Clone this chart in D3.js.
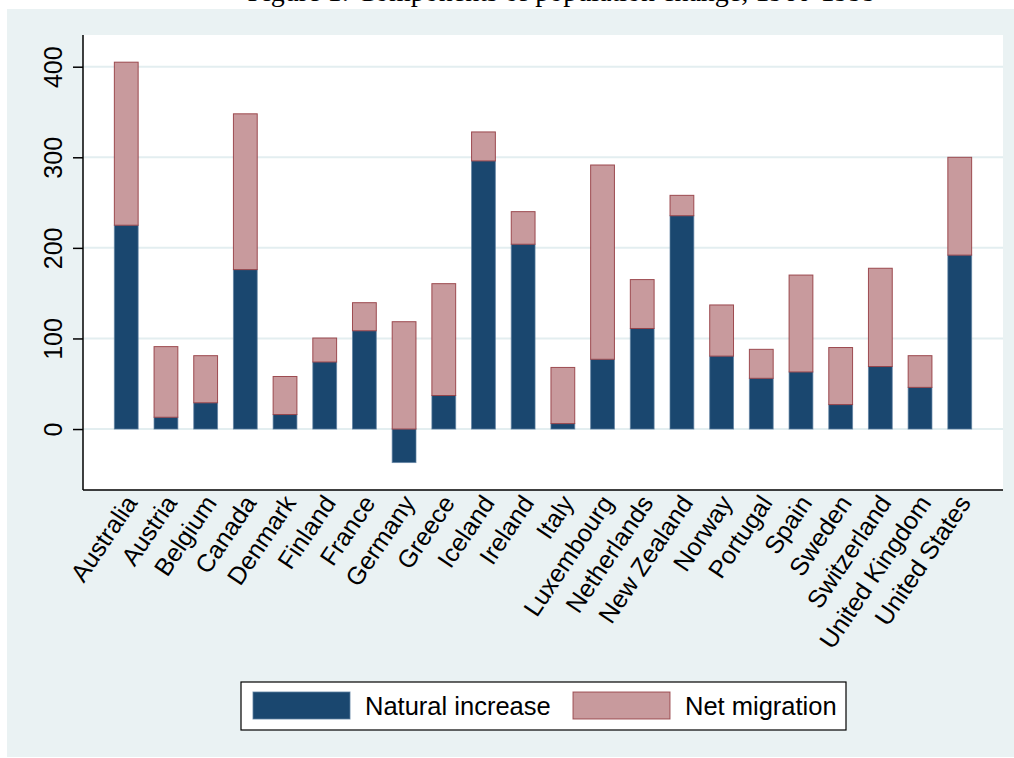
<!DOCTYPE html>
<html lang="en">
<head>
<meta charset="UTF-8">
<title>Components of population change</title>
<script src="https://d3js.org/d3.v7.min.js"></script>
<style>
  body { margin: 0; background: #ffffff; }
  svg { display: block; }
  text { font-family: "Liberation Sans", Arial, sans-serif; fill: #000; }
</style>
</head>
<body>
<div id="chart"></div>
<script>
// Data
const countries = ["Australia", "Austria", "Belgium", "Canada", "Denmark", "Finland", "France",
  "Germany", "Greece", "Iceland", "Ireland", "Italy", "Luxembourg", "Netherlands", "New Zealand",
  "Norway", "Portugal", "Spain", "Sweden", "Switzerland", "United Kingdom", "United States"];
const naturalIncrease = [225, 13, 29, 176, 16, 74, 108.5, -37, 37, 296, 204, 6, 77, 111, 235.5,
  80.5, 56, 63, 27, 69, 46, 192];
const netMigration = [180, 78, 52, 172, 42, 26.5, 31, 118.5, 123.5, 32, 36, 62, 214.5, 54, 22.5,
  56.5, 32, 107, 63, 108.5, 35, 108];
const yTicks = [0, 100, 200, 300, 400];
const seriesNames = ["Natural increase", "Net migration"];

const W = 1014, H = 758;
const plot = { left: 83, right: 1003, top: 35, bottom: 490 };

const navy = "#1a476f";
const pinkFill = "#c89a9d";
const maroon = "#90353b";
const bg = "#eaf2f3";

const svg = d3.select("#chart").append("svg")
  .attr("width", W).attr("height", H);

// title (cut off at the top edge, as in the source)
svg.append("text")
  .attr("x", 562).attr("y", 1)
  .attr("text-anchor", "middle")
  .style("font-family", "'Liberation Serif', 'DejaVu Serif', serif")
  .style("font-size", "28px")
  .text("Figure 1: Components of population change, 1960-1999");

// graph background
svg.append("rect")
  .attr("x", 7).attr("y", 9)
  .attr("width", W - 7).attr("height", 748)
  .attr("fill", bg);

// plot region
svg.append("rect")
  .attr("x", plot.left).attr("y", plot.top)
  .attr("width", plot.right - plot.left).attr("height", plot.bottom - plot.top)
  .attr("fill", "#ffffff");

const x = d3.scaleBand()
  .domain(countries)
  .range([plot.left, plot.right])
  .paddingInner(0.4)
  .paddingOuter(0.79);

const y = d3.scaleLinear()
  .domain([-67.3, 435])
  .range([plot.bottom, plot.top]);

// grid lines
svg.append("g")
  .selectAll("line")
  .data(yTicks)
  .join("line")
  .attr("x1", plot.left).attr("x2", plot.right)
  .attr("y1", d => y(d)).attr("y2", d => y(d))
  .attr("stroke", "#e3eef0")
  .attr("stroke-width", 2);

// stacked bars
const rows = countries.map((c, i) => ({
  country: c,
  "Natural increase": naturalIncrease[i],
  "Net migration": netMigration[i]
}));
const stacked = d3.stack()
  .keys(seriesNames)
  .offset(d3.stackOffsetDiverging)(rows);

const fills = { "Natural increase": navy, "Net migration": pinkFill };
const strokes = { "Natural increase": "#5d7fa0", "Net migration": maroon };

svg.append("g")
  .selectAll("g")
  .data(stacked)
  .join("g")
  .attr("fill", s => fills[s.key])
  .attr("stroke", s => strokes[s.key])
  .attr("stroke-width", 1)
  .attr("stroke-opacity", s => s.key === "Net migration" ? 0.85 : 0.7)
  .selectAll("rect")
  .data(s => s)
  .join("rect")
  .attr("x", d => x(d.data.country))
  .attr("width", x.bandwidth())
  .attr("y", d => y(Math.max(d[0], d[1])))
  .attr("height", d => Math.abs(y(d[0]) - y(d[1])));

// y axis
const yAxis = svg.append("g")
  .attr("transform", `translate(${plot.left},0)`)
  .call(d3.axisLeft(y).tickValues(yTicks).tickSize(10).tickPadding(0).tickFormat(d3.format("d")));
yAxis.select(".domain")
  .attr("d", `M0,${plot.top}V${plot.bottom}`)
  .attr("stroke", "#000").attr("stroke-width", 1.5);
yAxis.selectAll(".tick line").attr("stroke", "#000").attr("stroke-width", 1.5);
yAxis.selectAll(".tick text")
  .attr("x", 0).attr("dy", null)
  .attr("transform", "translate(-21,0) rotate(-90)")
  .attr("text-anchor", "middle")
  .style("font-size", "25px");

// x axis
const xAxis = svg.append("g")
  .attr("transform", `translate(0,${plot.bottom})`)
  .call(d3.axisBottom(x).tickSize(0).tickPadding(0));
xAxis.select(".domain")
  .attr("d", `M${plot.left},0H${plot.right}`)
  .attr("stroke", "#000").attr("stroke-width", 1.5);
xAxis.selectAll(".tick text")
  .attr("y", 0).attr("dy", null)
  .attr("transform", "translate(12,13) rotate(-56)")
  .attr("text-anchor", "end")
  .style("font-size", "25px");

// legend
const legend = svg.append("g");
legend.append("rect")
  .attr("x", 241).attr("y", 682)
  .attr("width", 605).attr("height", 48)
  .attr("fill", "#ffffff")
  .attr("stroke", "#000").attr("stroke-width", 1.2);

const legendItems = [
  { name: seriesNames[0], sx: 253, tx: 365 },
  { name: seriesNames[1], sx: 573, tx: 685 }
];
legend.selectAll("rect.sw")
  .data(legendItems)
  .join("rect")
  .attr("class", "sw")
  .attr("x", d => d.sx).attr("y", 692)
  .attr("width", 97).attr("height", 27)
  .attr("fill", d => fills[d.name])
  .attr("stroke", d => strokes[d.name])
  .attr("stroke-opacity", 0.8);
legend.selectAll("text")
  .data(legendItems)
  .join("text")
  .attr("x", d => d.tx).attr("y", 715)
  .style("font-size", "25.5px")
  .text(d => d.name);
</script>
</body>
</html>
